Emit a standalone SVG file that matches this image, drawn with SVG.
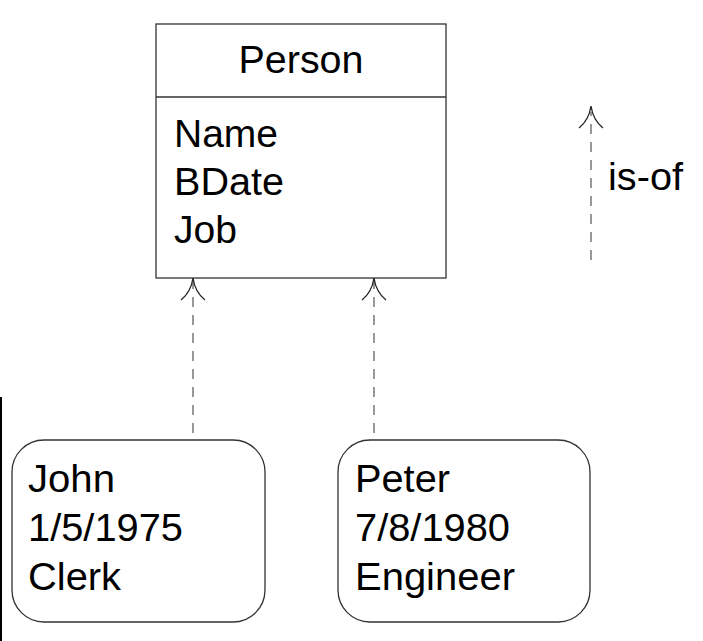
<svg xmlns="http://www.w3.org/2000/svg" width="703" height="641" viewBox="0 0 703 641">
<style>
text{font-family:"Liberation Sans",Arial,sans-serif;font-size:38px;fill:#000}
.box{fill:#fff;stroke:#333;stroke-width:1.3}
.dash{stroke:#777;stroke-width:1.5;stroke-dasharray:10,8;fill:none}
.head{stroke:#222;stroke-width:1.3;fill:none}
</style>
<rect width="703" height="641" fill="#fff"/>
<line x1="1" y1="397" x2="1" y2="641" stroke="#000" stroke-width="2"/>
<g id="person">
<rect class="box" x="156" y="24" width="290" height="254"/>
<line x1="156" y1="97" x2="446" y2="97" stroke="#333" stroke-width="1.3"/>
<text x="301" y="73" text-anchor="middle" textLength="125" lengthAdjust="spacingAndGlyphs">Person</text>
<text x="174" y="147" textLength="104" lengthAdjust="spacingAndGlyphs">Name</text>
<text x="174" y="195" textLength="110" lengthAdjust="spacingAndGlyphs">BDate</text>
<text x="174" y="243" textLength="63" lengthAdjust="spacingAndGlyphs">Job</text>
</g>
<g id="john">
<rect class="box" x="12" y="440" width="253" height="182" rx="32"/>
<text x="28" y="492" textLength="87" lengthAdjust="spacingAndGlyphs">John</text>
<text x="28" y="541" textLength="155" lengthAdjust="spacingAndGlyphs">1/5/1975</text>
<text x="28" y="590" textLength="93" lengthAdjust="spacingAndGlyphs">Clerk</text>
</g>
<g id="peter">
<rect class="box" x="338" y="440" width="252" height="182" rx="32"/>
<text x="355" y="492" textLength="95" lengthAdjust="spacingAndGlyphs">Peter</text>
<text x="355" y="541" textLength="155" lengthAdjust="spacingAndGlyphs">7/8/1980</text>
<text x="355" y="590" textLength="160" lengthAdjust="spacingAndGlyphs">Engineer</text>
</g>
<g id="connectors">
<line class="dash" x1="193" y1="433" x2="193" y2="282"/>
<path class="head" d="M181,300 Q191,292 193,278 Q195,292 205,300"/>
<line class="dash" x1="374" y1="433" x2="374" y2="282"/>
<path class="head" d="M362,300 Q372,292 374,278 Q376,292 386,300"/>
</g>
<g id="legend">
<line class="dash" x1="591" y1="260" x2="591" y2="112"/>
<path class="head" d="M579,128 Q589,120 591,106 Q593,120 603,128"/>
<text x="608" y="190" textLength="75" lengthAdjust="spacingAndGlyphs">is-of</text>
</g>
</svg>
